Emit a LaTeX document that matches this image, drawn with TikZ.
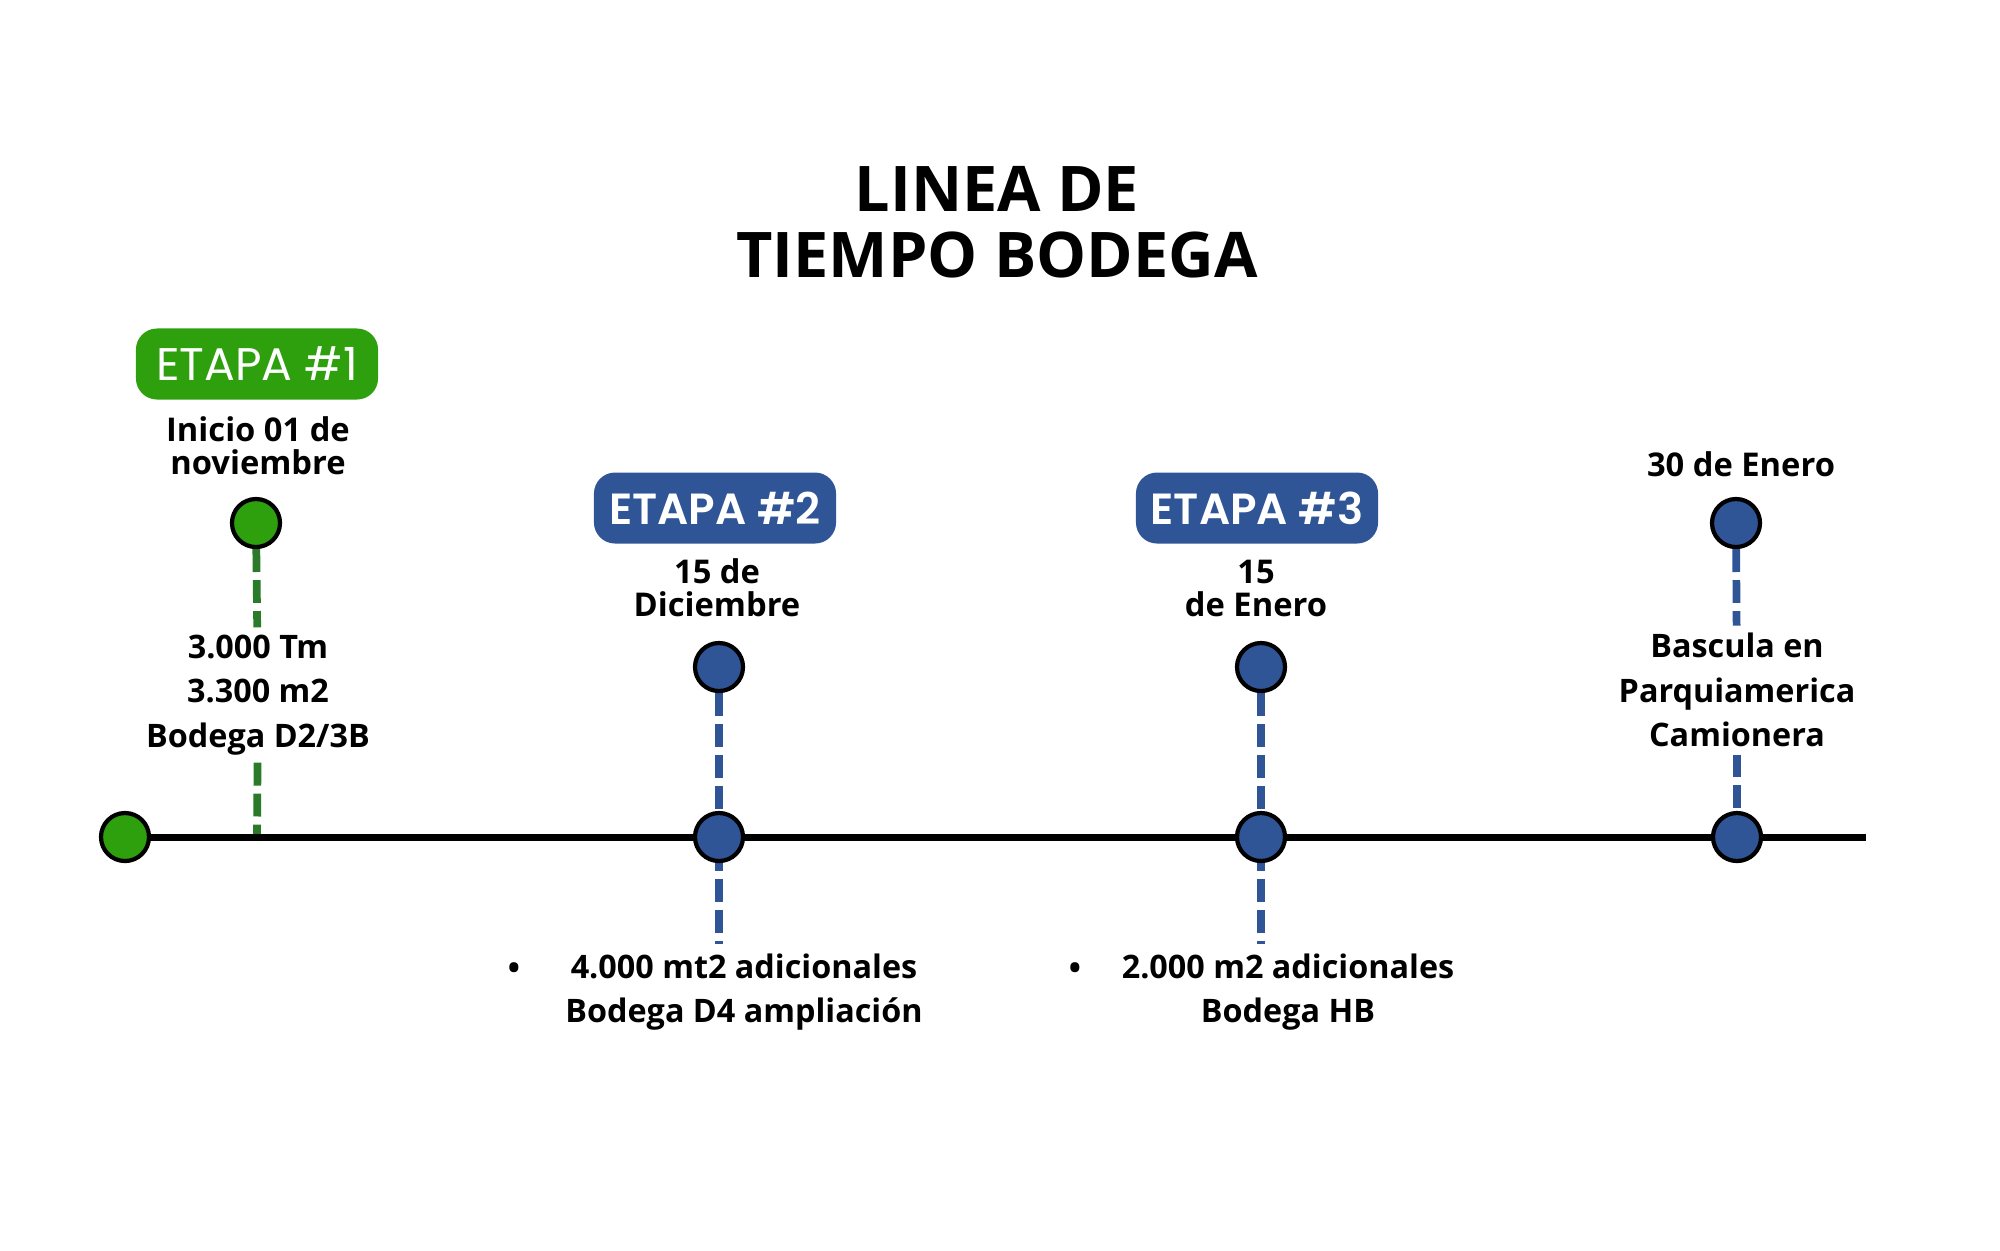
\documentclass[tikz,border=0pt]{standalone}
\usepackage{fontspec}
\setmainfont{Open Sans}
\newfontfamily\etapafont{Poppins}
\newfontfamily\etapamedia{Poppins SemiBold}
\usetikzlibrary{backgrounds}
\definecolor{etverde}{RGB}{46,160,14}
\definecolor{guiaverde}{RGB}{42,122,42}
\definecolor{etazul}{RGB}{47,85,151}

\begin{document}
\begin{tikzpicture}[x=0.01cm,y=-0.01cm,
  etapa/.style={rounded corners=6pt,minimum width=2.42cm,minimum height=0.71cm,inner sep=0pt,text=white,font=\etapafont\fontsize{13}{13}\selectfont},
  hito/.style={circle,draw=black,line width=1.2pt,minimum size=0.48cm,inner sep=0pt},
  txt/.style={align=center,inner sep=2pt,font=\bfseries\fontsize{9.2}{12.6}\selectfont},
  fecha/.style={align=center,inner sep=2pt,font=\bfseries\fontsize{9.3}{9.4}\selectfont},
  guia/.style={line width=2.2pt,dash pattern=on 6.5pt off 2.3pt},
]
  \useasboundingbox (0,0) rectangle (2000,1250);
  \node[align=center,font=\bfseries\fontsize{17.9}{18.8}\selectfont] (titulo) at (997,222) {LINEA DE\\TIEMPO BODEGA};

  \node[etapa,fill=etverde] (e1) at (257,364) {ETAPA \#1};
  \node[etapa,fill=etazul,font=\etapamedia\fontsize{12.4}{13}\selectfont] (e2) at (715,508) {ETAPA \#2};
  \node[etapa,fill=etazul,font=\etapamedia\fontsize{12.4}{13}\selectfont] (e3) at (1257,508) {ETAPA \#3};

  \node[fecha] (d1) at (258,446) {Inicio 01 de\\noviembre};
  \node[fecha] (d2) at (717,588) {15 de\\Diciembre};
  \node[fecha] (d3) at (1256,588) {15\\de Enero};
  \node[fecha] (d4) at (1741,464) {30 de Enero};

  \node[hito,fill=etverde] (s0) at (125,837) {};
  \node[hito,fill=etverde] (c1) at (256,523) {};
  \node[hito,fill=etazul] (c2) at (719,667) {};
  \node[hito,fill=etazul] (c3) at (1261,667) {};
  \node[hito,fill=etazul] (c4) at (1736,523) {};
  \node[hito,fill=etazul] (l2) at (719,837) {};
  \node[hito,fill=etazul] (l3) at (1261,837) {};
  \node[hito,fill=etazul] (l4) at (1737,837) {};

  \node[txt] (t1) at (258,695) {3.000 Tm\\3.300 m2\\Bodega D2/3B};
  \node[txt] (t4) at (1737,690) {Bascula en\\Parquiamerica\\Camionera};
  \node[txt] (b2) at (744,992) {4.000 mt2 adicionales\\Bodega D4 ampliación};
  \node[txt] (b3) at (1288,992) {2.000 m2 adicionales\\Bodega HB};
  \node[txt] (p2) at (514,971) {\textbullet};
  \node[txt] (p3) at (1075,971) {\textbullet};

  \coordinate (m1) at (257,837);
  \coordinate (f2) at (719,944);
  \coordinate (f3) at (1261,944);
  \coordinate (fin) at (1866,837);

  \begin{scope}[on background layer]
    \draw[guia,guiaverde] (c1) -- (t1);
    \draw[guia,guiaverde] (t1) -- (m1);
    \draw[guia,etazul] (c2) -- (f2);
    \draw[guia,etazul] (c3) -- (f3);
    \draw[guia,etazul] (c4) -- (t4);
    \draw[guia,etazul] (t4) -- (l4);
    \draw[line width=2pt] (s0) -- (fin);
  \end{scope}
\end{tikzpicture}
\end{document}
